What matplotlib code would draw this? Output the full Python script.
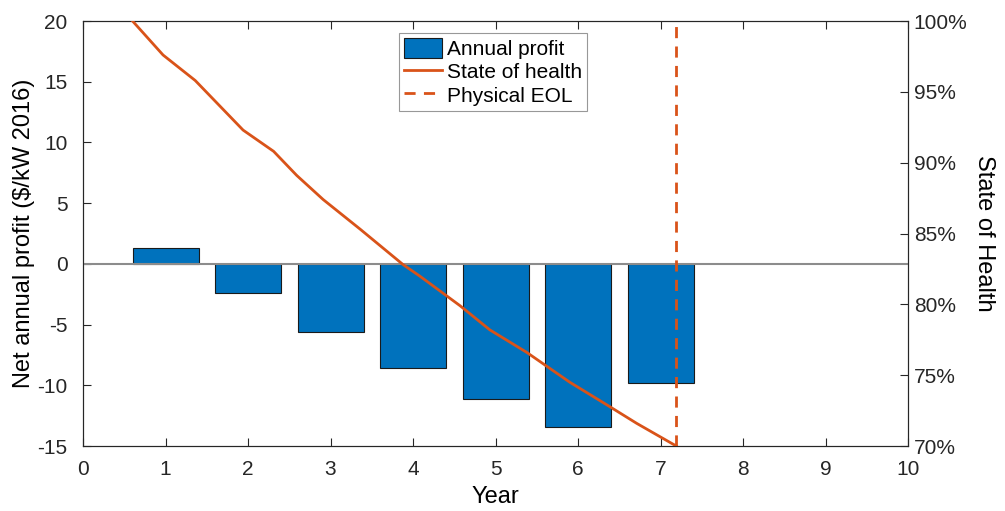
import matplotlib
matplotlib.use("Agg")
import matplotlib.pyplot as plt
from matplotlib.ticker import FuncFormatter

plt.rcParams['font.family'] = ['Liberation Sans', 'DejaVu Sans']
plt.rcParams['axes.unicode_minus'] = False

# net annual profit per year ($/kW 2016)
years = [1, 2, 3, 4, 5, 6, 7]
profit = [1.27, -2.41, -5.65, -8.57, -11.17, -13.4, -9.85]

# battery state of health (%) over time in years
soh_t = [0.60, 0.97, 1.36, 1.94, 2.31, 2.59, 2.91, 3.36, 3.88,
         4.08, 4.57, 4.93, 5.38, 5.90, 6.35, 6.71, 7.19]
soh = [100.0, 97.6, 95.8, 92.3, 90.8, 89.1, 87.4, 85.3, 82.8,
       82.0, 79.9, 78.2, 76.6, 74.5, 72.9, 71.6, 70.0]

eol_year = 7.19

blue = '#0072BD'
orange = '#D95319'
axcol = '#262626'

fig = plt.figure(figsize=(10.05, 5.11), dpi=100)
ax = fig.add_axes([0.0826, 0.1272, 0.821, 0.8317])

bars = ax.bar(years, profit, width=0.8, color=blue, edgecolor='#1a1a1a',
              linewidth=0.8, label='Annual profit', zorder=2)
ax.axhline(0, color='#8c8c8c', lw=1.5, zorder=3)

ax.set_xlim(0, 10)
ax.set_ylim(-15, 20)
ax.set_xticks(range(0, 11))
ax.set_yticks(range(-15, 21, 5))
ax.set_xlabel('Year', fontsize=17, labelpad=5)
ax.set_ylabel('Net annual profit ($/kW 2016)', fontsize=17, labelpad=2)
ax.tick_params(direction='in', length=6, width=0.8, labelsize=15,
               colors=axcol, top=True)
ax.tick_params(axis='x', pad=10)
ax.tick_params(axis='y', right=False, pad=11)

ax2 = ax.twinx()
line, = ax2.plot(soh_t, soh, color=orange, lw=2, label='State of health',
                 zorder=4)
eol = ax2.axvline(eol_year, color=orange, lw=2, ls=(0, (4, 3)),
                  label='Physical EOL', zorder=4)
ax2.set_ylim(70, 100)
ax2.set_yticks(range(70, 101, 5))
ax2.yaxis.set_major_formatter(FuncFormatter(lambda v, p: '%d%%' % v))
ax2.set_ylabel('State of Health', fontsize=17, rotation=270, labelpad=20)
ax2.tick_params(direction='in', length=6, width=0.8, labelsize=15,
                colors=axcol, pad=4)

for a in (ax, ax2):
    for s in a.spines.values():
        s.set_color(axcol)
        s.set_linewidth(0.8)

leg = ax2.legend([bars, line, eol], ['Annual profit', 'State of health', 'Physical EOL'],
                 loc='upper center', bbox_to_anchor=(0.497, 0.972),
                 fontsize=15, frameon=True, fancybox=False,
                 handlelength=1.8, handleheight=1.1, handletextpad=0.25,
                 borderpad=0.25, labelspacing=0.1, borderaxespad=0)
leg.get_frame().set_edgecolor('#7f7f7f')
leg.get_frame().set_linewidth(0.8)

fig.savefig('out.png', dpi=100)
